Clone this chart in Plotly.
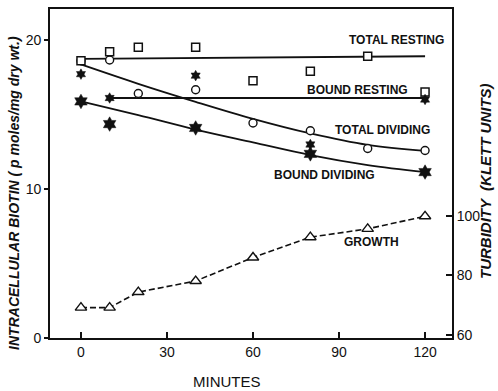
import plotly.graph_objects as go

# ---- data ----
minutes_tr = [0, 10, 20, 40, 60, 80, 100, 120]
total_resting = [18.6, 19.2, 19.5, 19.5, 17.25, 17.9, 18.9, 16.5]
fit_tr_x = [0, 120]
fit_tr_y = [18.72, 18.9]

minutes_td = [0, 10, 20, 40, 60, 80, 100, 120]
total_dividing = [18.6, 18.65, 16.4, 16.65, 14.42, 13.9, 12.71, 12.58]
fit_td_x = [0, 20, 40, 60, 80, 100, 120]
fit_td_y = [18.35, 17.05, 15.84, 14.7, 13.72, 12.95, 12.55]

minutes_br = [0, 10, 40, 80, 120]
bound_resting = [17.7, 16.1, 17.6, 12.98, 16.0]
fit_br_x = [10, 120]
fit_br_y = [16.1, 16.1]

minutes_bd = [0, 10, 40, 80, 120]
bound_dividing = [15.87, 14.35, 14.09, 12.35, 11.13]
fit_bd_x = [0, 20, 40, 60, 80, 100, 120]
fit_bd_y = [15.87, 14.95, 13.98, 13.12, 12.27, 11.6, 11.13]

minutes_gr = [0, 10, 20, 40, 60, 80, 100, 120]
growth = [69.2, 69.2, 74.4, 78.1, 86.0, 92.8, 95.6, 99.8]

x_ticks = [0, 30, 60, 90, 120]
y_ticks = [0, 10, 20]
y2_ticks = [60, 80, 100]

FONT = "Liberation Sans"
BLACK = "#111"

fig = go.Figure()

line = dict(color=BLACK, width=1.8)
fig.add_trace(go.Scatter(x=fit_tr_x, y=fit_tr_y, mode="lines", line=line))
fig.add_trace(go.Scatter(x=fit_br_x, y=fit_br_y, mode="lines", line=line))
fig.add_trace(go.Scatter(x=fit_td_x, y=fit_td_y, mode="lines", line=dict(color=BLACK, width=1.8, shape="spline")))
fig.add_trace(go.Scatter(x=fit_bd_x, y=fit_bd_y, mode="lines", line=dict(color=BLACK, width=1.8, shape="spline")))

fig.add_trace(go.Scatter(x=minutes_gr, y=growth, yaxis="y2", mode="lines+markers",
                         line=dict(color=BLACK, width=1.6, dash="6px,3px"),
                         marker=dict(symbol="triangle-up", size=10, color="white",
                                     line=dict(color=BLACK, width=1.4))))

fig.add_trace(go.Scatter(x=minutes_td, y=total_dividing, mode="markers",
                         marker=dict(symbol="circle", size=8, color="white",
                                     line=dict(color=BLACK, width=1.4))))
fig.add_trace(go.Scatter(x=minutes_tr, y=total_resting, mode="markers",
                         marker=dict(symbol="square", size=8, color="white",
                                     line=dict(color=BLACK, width=1.5))))
fig.add_trace(go.Scatter(x=minutes_br, y=bound_resting, mode="markers",
                         marker=dict(symbol="hexagram", size=8, color=BLACK,
                                     line=dict(color=BLACK, width=0.5))))
fig.add_trace(go.Scatter(x=minutes_bd, y=bound_dividing, mode="markers",
                         marker=dict(symbol="hexagram", size=11, color=BLACK,
                                     line=dict(color=BLACK, width=0.5))))

lab = dict(family=FONT, size=12, color=BLACK)
for txt, x, y in [("<b>TOTAL RESTING</b>", 110.2, 20.0),
                  ("<b>BOUND RESTING</b>", 96.6, 16.67),
                  ("<b>TOTAL DIVIDING</b>", 105.2, 13.98),
                  ("<b>BOUND DIVIDING</b>", 85.1, 10.93),
                  ("<b>GROWTH</b>", 101.3, 6.42)]:
    fig.add_annotation(x=x, y=y, xref="x", yref="y", text=txt, showarrow=False, font=lab)

W, H = 498, 391
L, R, T, B = 50, 46, 7, 53
pw, ph = W - L - R, H - T - B

def px_to_paper(px, py):
    return (px - L) / pw, (H - B - py) / ph

for txt, (px, py), size, ang in [
        ("<b><i>INTRACELLULAR BIOTIN ( p moles/mg dry wt.)</i></b>", (14, 192), 14, -90),
        ("<b><i>TURBIDITY  (KLETT UNITS)</i></b>", (486, 180), 15, -90),
        ("MINUTES", (227, 382), 15, 0)]:
    xp, yp = px_to_paper(px, py)
    fig.add_annotation(text=txt, x=xp, y=yp, xref="paper", yref="paper", textangle=ang,
                       xanchor="center", yanchor="middle", showarrow=False,
                       font=dict(family=FONT, size=size, color=BLACK))

tickfont = dict(family=FONT, size=14, color=BLACK)
fig.update_layout(
    width=W, height=H, margin=dict(l=L, r=R, t=T, b=B),
    paper_bgcolor="white", plot_bgcolor="white", showlegend=False,
    xaxis=dict(range=[-10.8, 129.4], tickvals=x_ticks, ticks="inside", ticklen=6, tickwidth=1.5,
               tickcolor=BLACK, showline=True, linecolor=BLACK, linewidth=1.8, mirror=True,
               showgrid=False, zeroline=False, tickfont=tickfont),
    yaxis=dict(range=[0, 22.07], tickvals=y_ticks, ticks="outside", ticklen=4, tickwidth=1.5,
               tickcolor=BLACK, showline=True, linecolor=BLACK, linewidth=1.8,
               showgrid=False, zeroline=False, tickfont=tickfont),
    yaxis2=dict(range=[59, 169.3], tickvals=y2_ticks, overlaying="y", side="right",
                ticks="inside", ticklen=6, tickwidth=1.5, tickcolor=BLACK,
                showline=True, linecolor=BLACK, linewidth=1.8,
                showgrid=False, zeroline=False, tickfont=tickfont),
)

fig.write_html("out.html", config={"displayModeBar": False},
               post_script="document.body.style.margin='0';document.body.style.overflow='hidden';")
